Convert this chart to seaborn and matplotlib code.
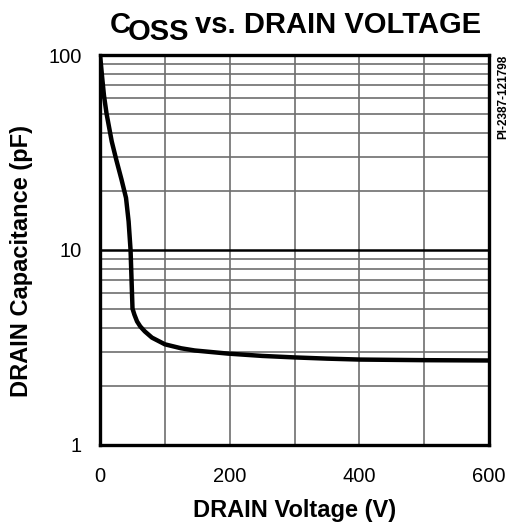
import pandas as pd
import matplotlib
matplotlib.use('Agg')
import matplotlib.pyplot as plt
import matplotlib.ticker as mticker
import seaborn as sns

# seaborn style
sns.set_style('white')
plt.rcParams['font.family'] = ['Liberation Sans', 'DejaVu Sans']
plt.rcParams['text.color'] = 'black'
plt.rcParams['axes.labelcolor'] = 'black'
plt.rcParams['xtick.color'] = 'black'
plt.rcParams['ytick.color'] = 'black'

# Coss curve
drain_voltage = [0, 3, 6, 10, 18, 25, 33, 40, 44, 47, 50, 53, 57, 62, 69, 80, 100, 125, 146, 197, 250, 300, 350, 400, 500, 600]
coss_pf = [100, 78, 62, 50, 36, 29, 23, 18.5, 14, 10, 5.0, 4.65, 4.3, 4.05, 3.82, 3.55, 3.28, 3.13, 3.05, 2.94, 2.86, 2.81, 2.77, 2.74, 2.72, 2.71]
y_ticks = [1, 10, 100]
x_ticks = [0, 200, 400, 600]

coss = pd.DataFrame({'V': drain_voltage, 'C': coss_pf})

fig = plt.figure(figsize=(5.08, 5.29), dpi=100)
ax = fig.add_axes([0.197, 0.159, 0.766, 0.737])

ax.set_yscale('log')
ax.set_xlim(0, 600)
ax.set_ylim(1, 100)

# grid
ax.xaxis.set_major_locator(mticker.FixedLocator(x_ticks))
ax.xaxis.set_minor_locator(mticker.MultipleLocator(100))
ax.yaxis.set_major_locator(mticker.FixedLocator(y_ticks))
ax.yaxis.set_minor_locator(mticker.LogLocator(base=10, subs=range(2, 10)))
ax.yaxis.set_major_formatter(mticker.FixedFormatter([str(t) for t in y_ticks]))
ax.yaxis.set_minor_formatter(mticker.NullFormatter())
ax.grid(which='both', axis='x', color='#6e6e6e', lw=1.2)
ax.grid(which='minor', axis='y', color='#6e6e6e', lw=1.2)
ax.grid(which='major', axis='y', color='black', lw=1.8)
ax.set_axisbelow(True)

_ = sns.lineplot(x='V', y='C', data=coss, color='black', lw=3.2, sort=False, ax=ax)

for s in ax.spines.values():
    s.set_color('black')
    s.set_linewidth(2.4)

ax.tick_params(which='both', length=0)
ax.tick_params(axis='y', labelsize=14.5, pad=13)
ax.tick_params(axis='x', labelsize=14.5, pad=16)

ax.set_xlabel('DRAIN Voltage (V)', fontsize=17, fontweight='bold', labelpad=9)
ax.set_ylabel('DRAIN Capacitance (pF)', fontsize=17, fontweight='bold')
ax.yaxis.set_label_coords(-0.172, 0.472)

# title, with the lowered OSS
fig.text(0.216, 0.938, 'C', fontsize=21, fontweight='bold', ha='left', va='baseline')
fig.text(0.252, 0.925, 'OSS', fontsize=21, fontweight='bold', ha='left', va='baseline')
fig.text(0.384, 0.938, 'vs. DRAIN VOLTAGE', fontsize=21, fontweight='bold', ha='left', va='baseline')

fig.text(0.99, 0.896, 'PI-2387-121798', fontsize=8.5, fontweight='bold', rotation=90,
         ha='center', va='top')

plt.savefig('out.png', dpi=100)
